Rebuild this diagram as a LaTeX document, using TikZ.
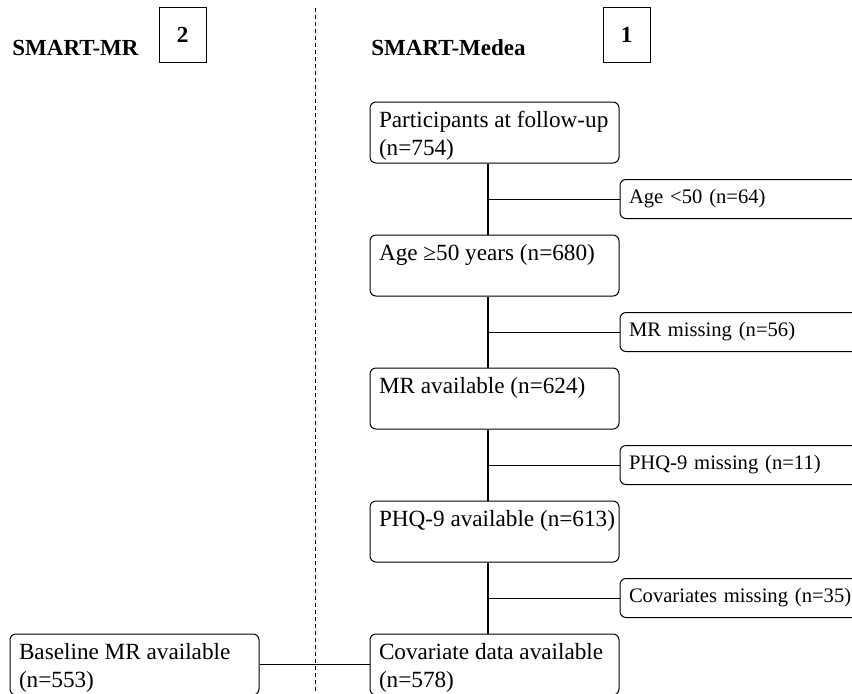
\documentclass[tikz,border=0pt]{standalone}
\usepackage{fontspec}
\setmainfont{Liberation Serif}
\usetikzlibrary{positioning, calc}

\newcommand{\mainfs}{\fontsize{11.6}{14}\selectfont}
\newcommand{\sidefs}{\fontsize{10.3}{12}\selectfont}
\newcommand{\headfs}{\fontsize{11.5}{13}\selectfont\bfseries}

\begin{document}
\begin{tikzpicture}[
x=1pt, y=1pt,
node distance=35.5pt,
mainbox/.style={draw, rounded corners=3pt, line width=0.5pt, inner sep=4.5pt, font=\mainfs,
  execute at begin node={\begin{minipage}[c][21.5pt][t]{119pt}\raggedright},
  execute at end node={\end{minipage}\hspace{-3.5pt}}},
sidebox/.style={draw, rounded corners=3pt, line width=0.5pt, anchor=west, inner xsep=4.5pt,
  minimum height=19.5pt, text width=126pt, align=left, font=\sidefs},
numbox/.style={draw, line width=0.5pt, minimum width=23.5pt, minimum height=27.5pt, inner sep=0pt, font=\headfs},
head/.style={anchor=base west, inner sep=0pt, font=\headfs},
trunk/.style={line width=1pt},
branch/.style={line width=0.5pt}
]
\useasboundingbox (0,0) rectangle (426,-346.5);

\node[head] (mrhead) at (6,-27.5) {SMART-MR};
\node[head] (medhead) at (185.5,-27.5) {SMART-Medea};
\node[numbox] (num2) at (91.25,-17.25) {2};
\node[numbox] (num1) at (313.25,-17.25) {1};

\coordinate (divtop) at (157.6,-4);
\coordinate (divbot) at (157.6,-346.5);
\draw[dash pattern=on 2pt off 1.5pt, line width=0.5pt] (divtop) -- (divbot);

\node[mainbox] (part) at (247.25,-66.25) {Participants at follow-up\\(n=754)};
\node[mainbox] (age) [below=of part] {Age ≥50 years (n=680)};
\node[mainbox] (mr) [below=of age] {MR available (n=624)};
\node[mainbox] (phq) [below=of mr] {PHQ-9 available (n=613)};
\node[mainbox] (cov) [below=of phq] {Covariate data available\\(n=578)};
\node[mainbox] (base) [left=55pt of cov] {Baseline MR available\\(n=553)};

\node[sidebox] (young) at ($(part.south east)!0.5!(age.north east)$) {Age <50 (n=64)};
\node[sidebox] (nomr) at ($(age.south east)!0.5!(mr.north east)$) {MR missing (n=56)};
\node[sidebox] (nophq) at ($(mr.south east)!0.5!(phq.north east)$) {PHQ-9 missing (n=11)};
\node[sidebox] (nocov) at ($(phq.south east)!0.5!(cov.north east)$) {Covariates missing (n=35)};

\draw[trunk] ([xshift=-3.5pt]part.south) -- ([xshift=-3.5pt]age.north);
\draw[trunk] ([xshift=-3.5pt]age.south) -- ([xshift=-3.5pt]mr.north);
\draw[trunk] ([xshift=-3.5pt]mr.south) -- ([xshift=-3.5pt]phq.north);
\draw[trunk] ([xshift=-3.5pt]phq.south) -- ([xshift=-3.5pt]cov.north);

\draw[branch] (young.west) -- ([xshift=-3.5pt]young.west -| part.south);
\draw[branch] (nomr.west) -- ([xshift=-3.5pt]nomr.west -| age.south);
\draw[branch] (nophq.west) -- ([xshift=-3.5pt]nophq.west -| mr.south);
\draw[branch] (nocov.west) -- ([xshift=-3.5pt]nocov.west -| phq.south);
\draw[branch] (base.east) -- (cov.west);

\end{tikzpicture}
\end{document}
